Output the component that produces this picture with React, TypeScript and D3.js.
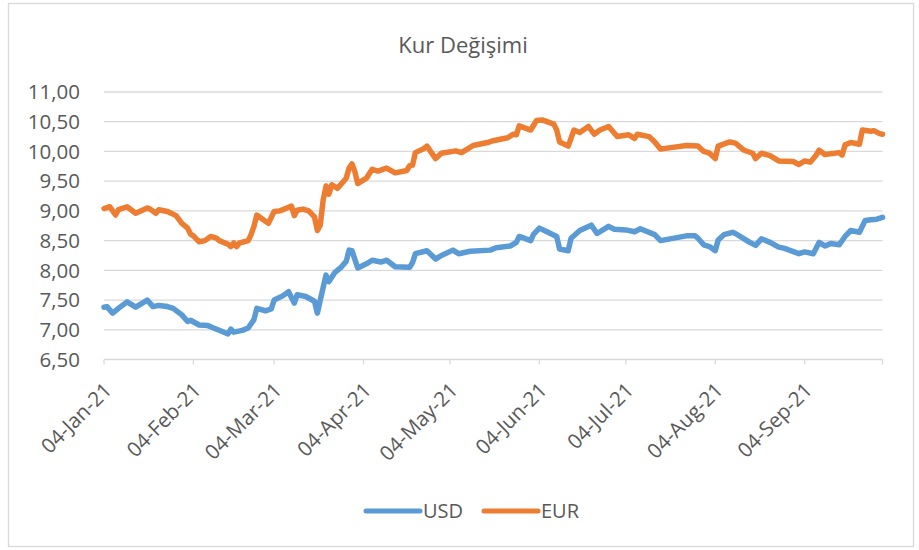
import React from "react";
import * as d3 from "d3";

const title = "Kur Değişimi";
const seriesNames = ["USD", "EUR"];
const seriesColors = ["#5B9BD5", "#ED7D31"];
const yTicks = [6.5, 7, 7.5, 8, 8.5, 9, 9.5, 10, 10.5, 11];
const xTickDates = [
  "2021-01-04", "2021-02-04", "2021-03-04", "2021-04-04", "2021-05-04",
  "2021-06-04", "2021-07-04", "2021-08-04", "2021-09-04",
];
const xDomain = ["2021-01-04", "2021-10-01"];

const usdDates = [
  "2021-01-04", "2021-01-05", "2021-01-07", "2021-01-09", "2021-01-12", "2021-01-15", "2021-01-19", "2021-01-21",
  "2021-01-23", "2021-01-26", "2021-01-28", "2021-01-31", "2021-02-02", "2021-02-03", "2021-02-06", "2021-02-09",
  "2021-02-11", "2021-02-14", "2021-02-16", "2021-02-17", "2021-02-18", "2021-02-21", "2021-02-23", "2021-02-25",
  "2021-02-26", "2021-03-01", "2021-03-03", "2021-03-04", "2021-03-07", "2021-03-09", "2021-03-11", "2021-03-12",
  "2021-03-15", "2021-03-18", "2021-03-19", "2021-03-20", "2021-03-22", "2021-03-23", "2021-03-25", "2021-03-27",
  "2021-03-29", "2021-03-30", "2021-03-31", "2021-04-02", "2021-04-05", "2021-04-07", "2021-04-10", "2021-04-12",
  "2021-04-15", "2021-04-20", "2021-04-21", "2021-04-22", "2021-04-26", "2021-04-29", "2021-05-01", "2021-05-05",
  "2021-05-07", "2021-05-11", "2021-05-18", "2021-05-20", "2021-05-25", "2021-05-27", "2021-05-28", "2021-06-01",
  "2021-06-02", "2021-06-04", "2021-06-07", "2021-06-10", "2021-06-11", "2021-06-14", "2021-06-15", "2021-06-18",
  "2021-06-22", "2021-06-24", "2021-06-28", "2021-06-30", "2021-07-04", "2021-07-07", "2021-07-09", "2021-07-14",
  "2021-07-16", "2021-07-25", "2021-07-28", "2021-07-29", "2021-07-31", "2021-08-02", "2021-08-04", "2021-08-05",
  "2021-08-07", "2021-08-10", "2021-08-11", "2021-08-14", "2021-08-16", "2021-08-18", "2021-08-20", "2021-08-23",
  "2021-08-26", "2021-08-28", "2021-09-02", "2021-09-04", "2021-09-07", "2021-09-09", "2021-09-11", "2021-09-13",
  "2021-09-16", "2021-09-18", "2021-09-20", "2021-09-23", "2021-09-25", "2021-09-27", "2021-09-29", "2021-10-01",
];
const usdValues = [
  7.38, 7.39, 7.28, 7.36, 7.47, 7.38, 7.50, 7.39,
  7.41, 7.39, 7.36, 7.25, 7.14, 7.16, 7.08, 7.07,
  7.03, 6.97, 6.93, 7.01, 6.96, 6.99, 7.03, 7.17,
  7.36, 7.32, 7.35, 7.50, 7.57, 7.64, 7.45, 7.59,
  7.56, 7.48, 7.28, 7.50, 7.92, 7.81, 7.96, 8.04,
  8.15, 8.34, 8.33, 8.04, 8.11, 8.17, 8.14, 8.17,
  8.06, 8.05, 8.13, 8.28, 8.33, 8.19, 8.25, 8.34,
  8.28, 8.32, 8.34, 8.38, 8.41, 8.47, 8.57, 8.50,
  8.61, 8.71, 8.64, 8.57, 8.36, 8.33, 8.54, 8.67,
  8.76, 8.62, 8.74, 8.69, 8.68, 8.65, 8.70, 8.60,
  8.50, 8.58, 8.58, 8.54, 8.43, 8.40, 8.33, 8.51,
  8.60, 8.64, 8.62, 8.53, 8.47, 8.42, 8.53, 8.47,
  8.39, 8.37, 8.28, 8.31, 8.28, 8.47, 8.41, 8.45,
  8.43, 8.57, 8.67, 8.64, 8.84, 8.85, 8.86, 8.89,
];

const eurDates = [
  "2021-01-04", "2021-01-06", "2021-01-08", "2021-01-09", "2021-01-12", "2021-01-15", "2021-01-19", "2021-01-20",
  "2021-01-22", "2021-01-23", "2021-01-26", "2021-01-29", "2021-01-31", "2021-02-02", "2021-02-03", "2021-02-04",
  "2021-02-06", "2021-02-08", "2021-02-10", "2021-02-12", "2021-02-13", "2021-02-16", "2021-02-17", "2021-02-18",
  "2021-02-19", "2021-02-20", "2021-02-23", "2021-02-24", "2021-02-25", "2021-02-26", "2021-02-28", "2021-03-02",
  "2021-03-04", "2021-03-06", "2021-03-08", "2021-03-10", "2021-03-11", "2021-03-12", "2021-03-14", "2021-03-16",
  "2021-03-18", "2021-03-19", "2021-03-20", "2021-03-21", "2021-03-22", "2021-03-23", "2021-03-24", "2021-03-26",
  "2021-03-29", "2021-03-30", "2021-03-31", "2021-04-01", "2021-04-02", "2021-04-05", "2021-04-07", "2021-04-09",
  "2021-04-12", "2021-04-15", "2021-04-19", "2021-04-20", "2021-04-21", "2021-04-22", "2021-04-25", "2021-04-26",
  "2021-04-29", "2021-05-01", "2021-05-06", "2021-05-08", "2021-05-10", "2021-05-12", "2021-05-17", "2021-05-19",
  "2021-05-21", "2021-05-24", "2021-05-26", "2021-05-27", "2021-05-28", "2021-06-01", "2021-06-03", "2021-06-05",
  "2021-06-09", "2021-06-10", "2021-06-11", "2021-06-14", "2021-06-16", "2021-06-18", "2021-06-21", "2021-06-23",
  "2021-06-25", "2021-06-28", "2021-07-01", "2021-07-05", "2021-07-07", "2021-07-08", "2021-07-12", "2021-07-14",
  "2021-07-16", "2021-07-19", "2021-07-25", "2021-07-29", "2021-07-31", "2021-08-02", "2021-08-04", "2021-08-05",
  "2021-08-09", "2021-08-11", "2021-08-14", "2021-08-17", "2021-08-18", "2021-08-20", "2021-08-23", "2021-08-26",
  "2021-08-31", "2021-09-02", "2021-09-04", "2021-09-06", "2021-09-08", "2021-09-09", "2021-09-11", "2021-09-16",
  "2021-09-17", "2021-09-18", "2021-09-20", "2021-09-23", "2021-09-24", "2021-09-27", "2021-09-28", "2021-09-30",
  "2021-10-01",
];
const eurValues = [
  9.04, 9.07, 8.93, 9.02, 9.07, 8.96, 9.05, 9.03,
  8.96, 9.02, 8.99, 8.92, 8.79, 8.71, 8.61, 8.58,
  8.48, 8.50, 8.57, 8.54, 8.50, 8.44, 8.40, 8.46,
  8.40, 8.46, 8.50, 8.60, 8.74, 8.93, 8.86, 8.79,
  8.99, 9.00, 9.04, 9.08, 8.92, 9.01, 9.03, 9.00,
  8.90, 8.67, 8.76, 9.18, 9.42, 9.28, 9.44, 9.38,
  9.55, 9.72, 9.79, 9.66, 9.46, 9.55, 9.70, 9.67,
  9.72, 9.64, 9.68, 9.76, 9.77, 9.98, 10.05, 10.09,
  9.88, 9.97, 10.01, 9.98, 10.04, 10.10, 10.15, 10.18,
  10.20, 10.23, 10.29, 10.28, 10.43, 10.36, 10.52, 10.53,
  10.46, 10.36, 10.16, 10.09, 10.36, 10.32, 10.42, 10.29,
  10.36, 10.42, 10.25, 10.28, 10.22, 10.29, 10.25, 10.16,
  10.04, 10.06, 10.10, 10.09, 10.00, 9.97, 9.88, 10.09,
  10.16, 10.14, 10.02, 9.97, 9.88, 9.97, 9.93, 9.84,
  9.83, 9.78, 9.84, 9.82, 9.94, 10.02, 9.95, 9.98,
  9.94, 10.11, 10.15, 10.12, 10.36, 10.34, 10.35, 10.30,
  10.29,
];

const parse = d3.timeParse("%Y-%m-%d");
const fmtDate = d3.timeFormat("%d-%b-%y");
const fmtNum = (v: number) => d3.format(".2f")(v).replace(".", ",");

const W = 919;
const H = 550;
const FONT = "'Open Sans', sans-serif";
const TEXT = "#595959";
const GRID = "#D9D9D9";

export default function App() {
  const x = d3
    .scaleTime()
    .domain([parse(xDomain[0]) as Date, parse(xDomain[1]) as Date])
    .range([104, 882.5]);
  const y = d3.scaleLinear().domain([6.5, 11]).range([359.5, 92]);

  const series = [
    { name: seriesNames[0], color: seriesColors[0], pts: usdDates.map((d, i) => [parse(d) as Date, usdValues[i]] as [Date, number]) },
    { name: seriesNames[1], color: seriesColors[1], pts: eurDates.map((d, i) => [parse(d) as Date, eurValues[i]] as [Date, number]) },
  ];
  const line = d3
    .line<[Date, number]>()
    .x((d) => x(d[0]))
    .y((d) => y(d[1]));

  const [x0, x1] = x.range();

  return (
    <svg width={W} height={H} style={{ position: "absolute", left: 0, top: 0, background: "#fff" }} fontFamily={FONT}>
      <rect x={8.5} y={3.5} width={905} height={543} fill="#fff" stroke={GRID} strokeWidth={1.3} />
      <text x={463} y={53} textAnchor="middle" fontSize={22} fill={TEXT}>
        {title}
      </text>
      {yTicks.map((t) => (
        <g key={t}>
          <line x1={x0} x2={x1} y1={y(t)} y2={y(t)} stroke={GRID} strokeWidth={1.3} />
          <text x={80} y={y(t)} dy="0.35em" textAnchor="end" fontSize={20.5} fill={TEXT}>
            {fmtNum(t)}
          </text>
        </g>
      ))}
      {xTickDates.map((s) => {
        const d = parse(s) as Date;
        const px = x(d);
        return (
          <g key={s}>
            <line x1={px} x2={px} y1={y(6.5)} y2={y(6.5) + 5} stroke={GRID} strokeWidth={1.3} />
            <text
              transform={`translate(${px + 9},${y(6.5) + 32}) rotate(-45)`}
              textAnchor="end"
              fontSize={20.5}
              fill={TEXT}
            >
              {fmtDate(d)}
            </text>
          </g>
        );
      })}
      <line x1={x1} x2={x1} y1={y(6.5)} y2={y(6.5) + 5} stroke={GRID} strokeWidth={1.3} />
      {series.map((s) => (
        <path
          key={s.name}
          d={line(s.pts) || ""}
          fill="none"
          stroke={s.color}
          strokeWidth={5.5}
          strokeLinejoin="round"
          strokeLinecap="round"
        />
      ))}
      {series.map((s, i) => {
        const lx = i === 0 ? 366 : 484;
        return (
          <g key={s.name}>
            <line x1={lx} x2={lx + 54} y1={511} y2={511} stroke={s.color} strokeWidth={5} strokeLinecap="round" />
            <text x={lx + 57} y={511} dy="0.35em" fontSize={20} fill={TEXT}>
              {s.name}
            </text>
          </g>
        );
      })}
    </svg>
  );
}
